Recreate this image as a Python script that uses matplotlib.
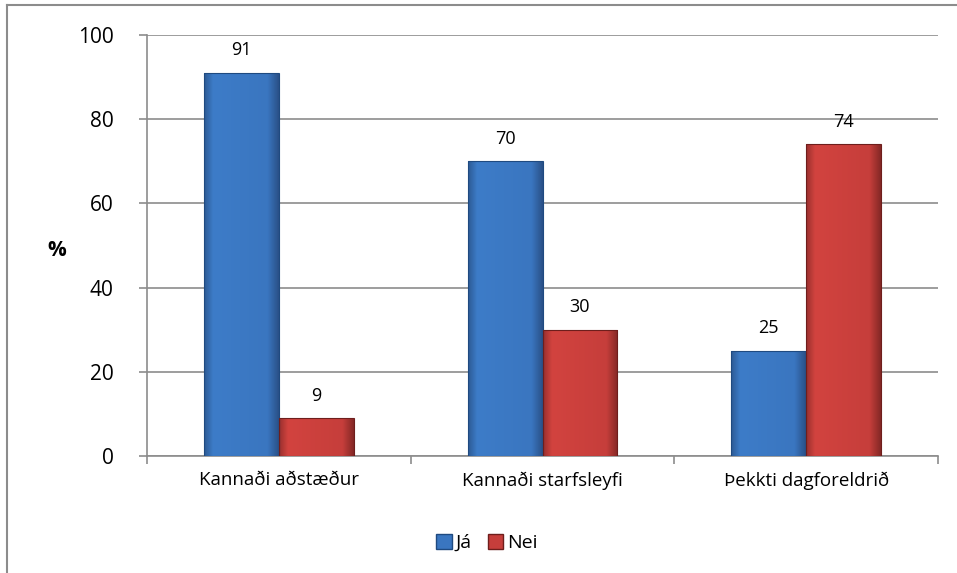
import matplotlib.pyplot as plt
import numpy as np
from matplotlib.colors import LinearSegmentedColormap
from matplotlib.lines import Line2D

plt.rcParams['font.family'] = ['Open Sans', 'DejaVu Sans']

# gögn
flokkar = ["Kannaði aðstæður", "Kannaði starfsleyfi", "Þekkti dagforeldrið"]
ja = [91, 70, 25]
nei = [9, 30, 74]
raðir = ["Já", "Nei"]
yticks = [0, 20, 40, 60, 80, 100]

blar = ["#2c5a94", "#3d7cc8", "#3a76c0", "#2a5188"]
raudur = ["#9a302e", "#d2433f", "#c63e3b", "#852826"]

fig = plt.figure(figsize=(9.57, 5.73), dpi=100)
ax = fig.add_axes([147 / 957, 117 / 573, 791 / 957, 421 / 573])

x = np.arange(len(flokkar))
w = 0.284


def gradient_bars(bars, cols):
    cmap = LinearSegmentedColormap.from_list(
        "g", [(0, cols[0]), (0.12, cols[1]), (0.85, cols[2]), (1, cols[3])])
    grad = np.linspace(0, 1, 200).reshape(1, -1)
    for b in bars:
        x0, y0 = b.get_x(), b.get_y()
        bw, bh = b.get_width(), b.get_height()
        im = ax.imshow(grad, extent=[x0, x0 + bw, y0, y0 + bh], aspect="auto",
                       cmap=cmap, zorder=3)
        im.set_clip_path(b)
        b.set_facecolor("none")


b1 = ax.bar(x - w / 2, ja, w, color=blar[2], edgecolor="#1f4a80", linewidth=0.8, zorder=4)
b2 = ax.bar(x + w / 2, nei, w, color=raudur[2], edgecolor="#6e1e1c", linewidth=0.8, zorder=4)
gradient_bars(b1, blar)
gradient_bars(b2, raudur)

for xi, v in zip(x - w / 2, ja):
    ax.text(xi, v + 3.2, str(v), ha="center", va="bottom", fontsize=13)
for xi, v in zip(x + w / 2, nei):
    ax.text(xi, v + 3.2, str(v), ha="center", va="bottom", fontsize=13)

ax.set_xlim(-0.5, len(flokkar) - 0.5)
ax.set_ylim(0, 100)
ax.set_yticks(yticks)
ax.set_yticklabels([str(t) for t in yticks], fontsize=15)
ax.yaxis.grid(True, color="#8c8c8c", linewidth=1.2, zorder=0)
ax.set_axisbelow(True)

ax.set_xticks(np.arange(len(flokkar) + 1) - 0.5)
ax.set_xticklabels([])
ax.set_xticks(x, minor=True)
ax.set_xticklabels(flokkar, minor=True, fontsize=13.5)
ax.tick_params(axis="x", which="minor", length=0, pad=11)
ax.tick_params(axis="x", which="major", length=6, color="#8c8c8c", width=1.2, direction="out")
ax.tick_params(axis="y", length=6, color="#8c8c8c", width=1.2, pad=18)

for s in ["top", "right"]:
    ax.spines[s].set_visible(False)
for s in ["left", "bottom"]:
    ax.spines[s].set_color("#8c8c8c")
    ax.spines[s].set_linewidth(1.2)

fig.text(57 / 957, 1 - 250 / 573, "%", fontsize=15, fontweight="bold", ha="center", va="center")

handles = [plt.Rectangle((0, 0), 1, 1, facecolor=blar[2], edgecolor="#1f4a80"),
           plt.Rectangle((0, 0), 1, 1, facecolor=raudur[2], edgecolor="#6e1e1c")]
fig.legend(handles, raðir, loc="center", bbox_to_anchor=(487 / 957, 1 - 543 / 573),
           ncol=2, frameon=False, fontsize=14, handlelength=0.8, handleheight=0.8,
           handletextpad=0.2, columnspacing=0.8)

# rammi
fig.add_artist(Line2D([7 / 957, 1], [1 - 5 / 573, 1 - 5 / 573], color="#8c8c8c", linewidth=1.5))
fig.add_artist(Line2D([7 / 957, 7 / 957], [0, 1 - 5 / 573], color="#8c8c8c", linewidth=1.5))

fig.savefig("out.png", dpi=100)
